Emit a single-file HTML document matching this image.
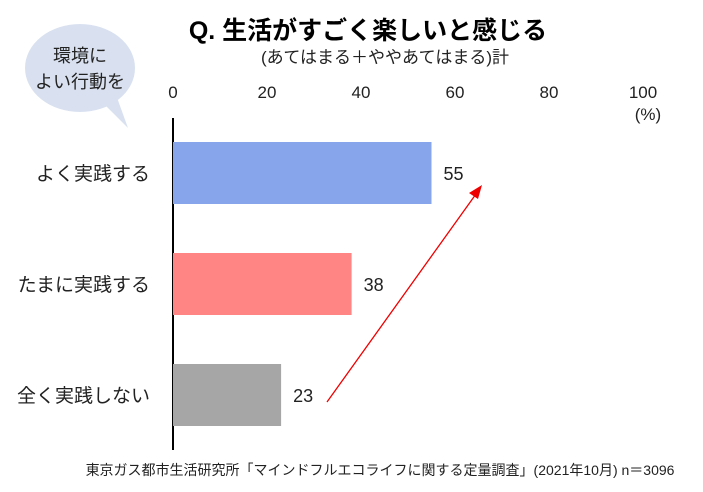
<!DOCTYPE html>
<html><head><meta charset="utf-8"><style>
body{margin:0;background:#fff;width:703px;height:487px;overflow:hidden;font-family:"Liberation Sans","Noto Sans CJK JP",sans-serif}
svg text{font-family:"Liberation Sans","Noto Sans CJK JP",sans-serif}
</style></head><body>
<svg id="c" width="703" height="487">
<ellipse cx="80" cy="68" rx="55" ry="44" fill="#d9e1f0"/>
<polygon points="100,100 128,128 115,92" fill="#d9e1f0"/>
<text x="80" y="62" font-size="18" text-anchor="middle" fill="#222">環境に</text>
<text x="80" y="88" font-size="18" text-anchor="middle" fill="#222">よい行動を</text>
<text x="368" y="39" font-size="25" font-weight="bold" text-anchor="middle" fill="#000">Q. 生活がすごく楽しいと感じる</text>
<text x="385" y="63" font-size="17" text-anchor="middle" fill="#222">(あてはまる＋ややあてはまる)計</text>
<text x="648" y="120" font-size="17" text-anchor="middle" fill="#222">(%)</text>
<line x1="173" y1="118" x2="173" y2="450" stroke="#000" stroke-width="2"/>
<g id="bars"></g>
<line x1="327" y1="402" x2="476" y2="194" stroke="#e00" stroke-width="1.3"/>
<polygon points="482,185 469,193 478,199" fill="#e00"/>
<text x="380" y="475" font-size="14" text-anchor="middle" fill="#222">東京ガス都市生活研究所「マインドフルエコライフに関する定量調査」(2021年10月)  n＝3096</text>
</svg>
<script>
const categories=["よく実践する","たまに実践する","全く実践しない"];
const values=[55,38,23];
const colors=["#87a5ea","#ff8585","#a6a6a6"];
const ticks=[0,20,40,60,80,100];
const NS="http://www.w3.org/2000/svg";
const g=document.getElementById('bars');
const svg=document.getElementById('c');
function xs(v){return 173+v*4.7;}
function yc(i){return 173+i*111;}
function mk(t,a,p){const e=document.createElementNS(NS,t);for(const k in a)e.setAttribute(k,a[k]);p.appendChild(e);return e;}
ticks.forEach(t=>{
  const e=mk('text',{x:xs(t),y:98,'font-size':17,'text-anchor':'middle',fill:'#222'},svg);
  e.textContent=t;
  
  
});
categories.forEach((c,i)=>{
  const r=mk('rect',{x:xs(0),y:yc(i)-31,width:xs(values[i])-xs(0),height:62,fill:colors[i]},g);
  
  
  const l=mk('text',{x:150,y:yc(i)+7,'font-size':19,'text-anchor':'end',fill:'#222'},g);
  l.textContent=c;
  
  
  const v=mk('text',{x:xs(values[i])+12,y:yc(i)+7,'font-size':18,fill:'#222'},g);
  v.textContent=values[i];
  
  
});
</script>
</body></html>
